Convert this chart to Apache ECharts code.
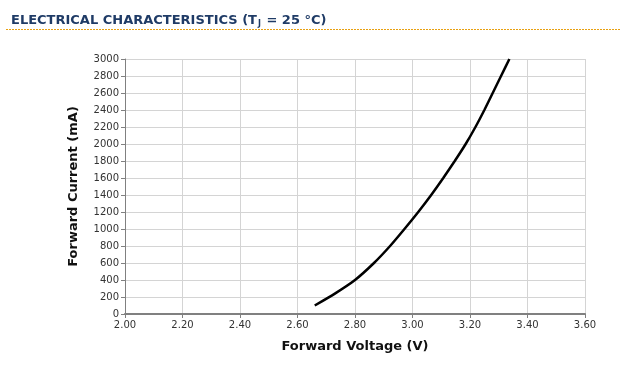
<!DOCTYPE html>
<html><head><meta charset="utf-8">
<script src="https://cdn.jsdelivr.net/npm/echarts@6/dist/echarts.min.js"></script>
<style>html,body{margin:0;padding:0;background:#fff}#c{width:620px;height:374px}</style>
</head><body><div id="c"></div>
<script>
const voltage = [2.66, 2.73, 2.80, 2.866, 2.922, 2.972, 3.020, 3.065, 3.107, 3.147, 3.185, 3.219, 3.250, 3.279, 3.308, 3.337];
const current = [100, 240, 400, 600, 800, 1000, 1200, 1400, 1600, 1800, 2000, 2200, 2400, 2600, 2800, 3000];
const xTicks = [2.00, 2.20, 2.40, 2.60, 2.80, 3.00, 3.20, 3.40, 3.60];
const yTicks = [0, 200, 400, 600, 800, 1000, 1200, 1400, 1600, 1800, 2000, 2200, 2400, 2600, 2800, 3000];

const chart = echarts.init(document.getElementById('c'));
const font = 'DejaVu Sans, Verdana, sans-serif';
chart.setOption({
  animation: false,
  title: {
    text: '{a|ELECTRICAL CHARACTERISTICS (T}{s|J}{a| = 25 °C)}',
    left: 6, top: 9,
    textStyle: {
      rich: {
        a: {fontFamily: font, fontSize: 13, fontWeight: 'bold', color: '#1f3b66'},
        s: {fontFamily: font, fontSize: 8, fontWeight: 'bold', color: '#1f3b66', verticalAlign: 'bottom', padding: [6,1,0,1]}
      }
    }
  },
  graphic: [{
    type: 'line', shape: {x1: 6, y1: 29.5, x2: 620, y2: 29.5},
    style: {stroke: '#e8a010', lineWidth: 1, lineDash: [2, 1]}
  }],
  grid: {left: 125, right: 35, top: 59, bottom: 60},
  xAxis: {
    type: 'value', min: 2.0, max: 3.6, interval: 0.2,
    name: 'Forward Voltage (V)', nameLocation: 'middle', nameGap: 26,
    nameTextStyle: {fontFamily: font, fontSize: 13, fontWeight: 'bold', color: '#111'},
    axisLine: {lineStyle: {color: '#808080', width: 2}},
    axisTick: {show: true, length: 4, lineStyle: {color: '#808080'}},
    axisLabel: {fontFamily: font, fontSize: 10, color: '#333', margin: 6,
      formatter: v => { const t = xTicks.find(k => Math.abs(k - v) < 1e-6); return t === undefined ? '' : t.toFixed(2); }},
    splitLine: {show: true, lineStyle: {color: '#d4d4d4', width: 1}}
  },
  yAxis: {
    type: 'value', min: 0, max: 3000, interval: 200,
    name: 'Forward Current (mA)', nameLocation: 'middle', nameGap: 45,
    nameTextStyle: {fontFamily: font, fontSize: 13, fontWeight: 'bold', color: '#111'},
    axisLine: {show: true, lineStyle: {color: '#808080', width: 1}},
    axisTick: {show: true, length: 4, lineStyle: {color: '#808080'}},
    axisLabel: {fontFamily: font, fontSize: 10, color: '#333', margin: 6,
      formatter: v => yTicks.includes(v) ? String(v) : ''},
    splitLine: {show: true, lineStyle: {color: '#d4d4d4', width: 1}}
  },
  series: [{
    type: 'line', data: voltage.map((v, i) => [v, current[i]]),
    smooth: 0.2, showSymbol: false,
    lineStyle: {color: '#000', width: 2.5}
  }]
});
</script></body></html>
